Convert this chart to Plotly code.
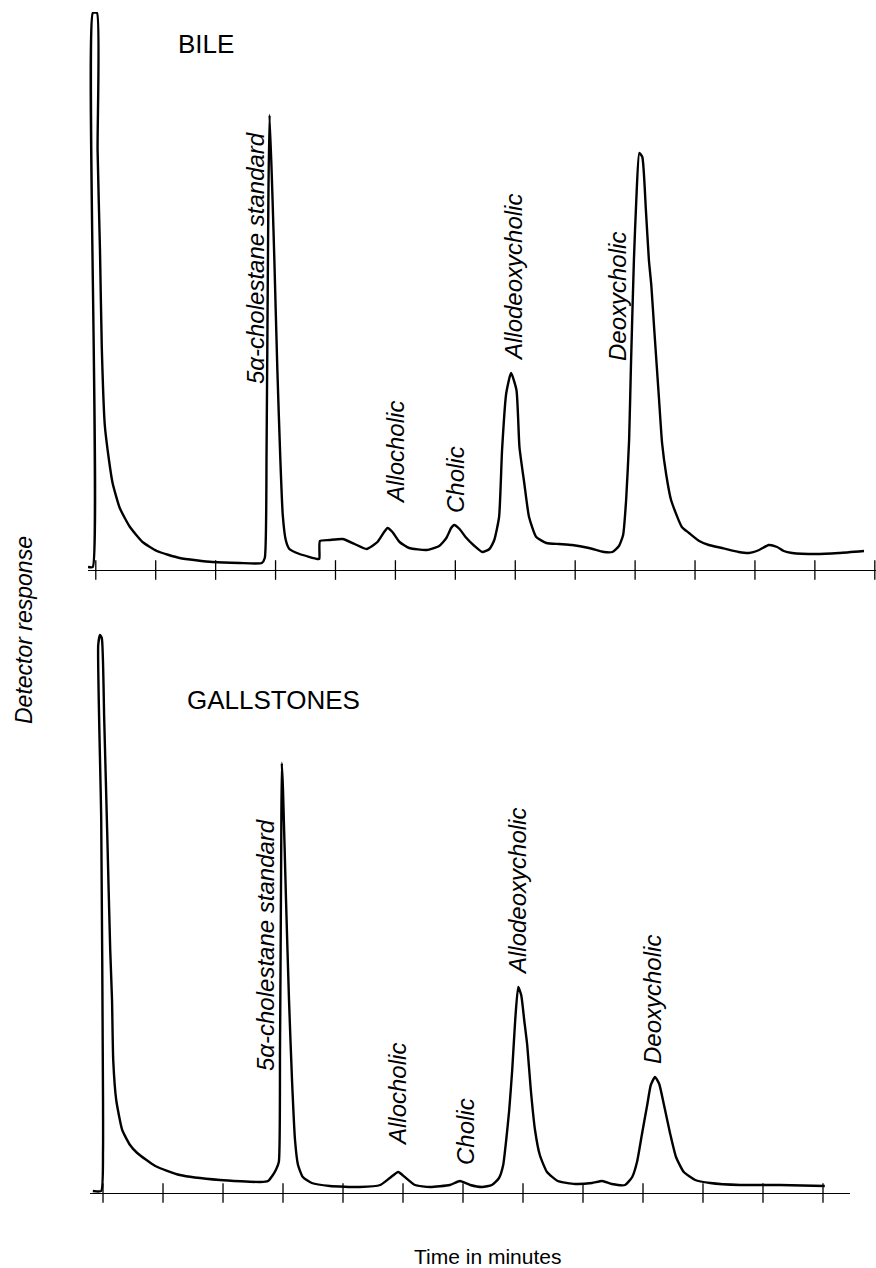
import plotly.graph_objects as go

W, H = 876, 1268

# ---------------- data (time in minutes, detector response in arbitrary units) -------------
BILE_TIME = [-0.13, -0.05, -0.05, 0.02, 0.03, 0.07, 0.10, 0.15, 0.22, 0.28, 0.40, 0.57, 0.78,
             1.02, 1.40, 1.95, 2.40, 2.77, 2.82, 2.85, 2.88, 2.90, 2.95, 2.98, 3.03, 3.08,
             3.12, 3.17, 3.23, 3.40, 3.70, 3.73, 3.74, 3.90, 4.12, 4.32, 4.52, 4.70, 4.80,
             4.87, 4.95, 5.07, 5.23, 5.52, 5.73, 5.85, 5.93, 5.98, 6.07, 6.17, 6.32, 6.45,
             6.57, 6.65, 6.73, 6.78, 6.85, 6.93, 7.02, 7.07, 7.15, 7.23, 7.35, 7.52, 7.73,
             7.95, 8.23, 8.48, 8.62, 8.73, 8.80, 8.85, 8.90, 8.93, 8.98, 9.02, 9.07, 9.12,
             9.18, 9.23, 9.27, 9.32, 9.40, 9.45, 9.52, 9.60, 9.78, 9.90, 10.07, 10.23,
             10.45, 10.73, 10.90, 11.07, 11.23, 11.37, 11.48, 11.62, 12.02, 12.40, 12.82]
BILE_RESP = [3, 3, 557, 557, 420, 320, 223, 145, 110, 87, 62, 43, 28,
             19, 12, 8, 7, 7, 12, 120, 370, 455, 370, 310, 200, 110,
             55, 30, 21, 16, 11, 11, 29, 30, 31, 26, 21, 28, 37,
             42, 38, 28, 22, 20, 24, 32, 42, 45, 41, 33, 24, 18,
             21, 30, 53, 120, 177, 197, 180, 123, 87, 53, 33, 27, 26,
             25, 22, 18, 18, 24, 35, 70, 130, 203, 310, 370, 417, 413,
             360, 310, 285, 240, 170, 127, 95, 70, 43, 37, 29, 25,
             22, 18, 17, 20, 25, 23, 19, 17, 16, 17, 19]

STONE_TIME = [-0.17, -0.03, 0.00, 0.00, -0.03, -0.08, -0.05, -0.02, 0.02, 0.07, 0.12, 0.15,
              0.17, 0.22, 0.32, 0.45, 0.57, 0.87, 1.28, 1.95, 2.62, 2.75, 2.82, 2.88, 2.93,
              2.95, 2.97, 2.98, 3.00, 3.05, 3.10, 3.15, 3.20, 3.25, 3.33, 3.48, 3.78, 4.28,
              4.62, 4.78, 4.92, 5.03, 5.20, 5.45, 5.78, 5.95, 6.12, 6.32, 6.48, 6.60, 6.67,
              6.72, 6.77, 6.82, 6.87, 6.92, 6.97, 7.02, 7.07, 7.13, 7.20, 7.28, 7.40, 7.58,
              7.87, 8.15, 8.32, 8.48, 8.70, 8.82, 8.90, 8.98, 9.07, 9.13, 9.20, 9.27, 9.35,
              9.45, 9.55, 9.68, 9.87, 10.12, 10.62, 11.28, 12.03]
STONE_RESP = [2, 2, 43, 93, 373, 548, 558, 555, 473, 360, 243, 193,
              133, 93, 63, 48, 40, 27, 18, 13, 11, 12, 17, 23, 31,
              143, 343, 430, 403, 293, 193, 113, 53, 28, 16, 10, 7, 6,
              8, 15, 21, 16, 8, 6, 8, 12, 8, 6, 8, 15, 28,
              53, 83, 123, 173, 206, 198, 173, 148, 103, 63, 38, 21, 12,
              9, 10, 12, 9, 8, 16, 31, 58, 88, 108, 116, 109, 88,
              60, 36, 21, 13, 10, 8, 8, 7]

BILE_TICKS = list(range(0, 14))
STONE_TICKS = list(range(0, 13))

BILE_LABELS = ["5α-cholestane standard", "Allocholic", "Cholic", "Allodeoxycholic", "Deoxycholic"]
STONE_LABELS = ["5α-cholestane standard", "Allocholic", "Cholic", "Allodeoxycholic", "Deoxycholic"]

# ---------------- layout helpers (pixel -> paper) ----------------
def px(x):
    return x / W


def py(y):
    return 1 - y / H


FONT = "Liberation Sans"
LINE = dict(color="black", width=2.4, shape="spline", smoothing=0.5)
TICK_MARK = dict(symbol="line-ns", size=14, color="black", line=dict(color="black", width=1.3))

fig = go.Figure()
fig.add_trace(go.Scatter(x=BILE_TIME, y=BILE_RESP, xaxis="x", yaxis="y", mode="lines",
                         line=LINE, hoverinfo="skip", showlegend=False))
fig.add_trace(go.Scatter(x=STONE_TIME, y=STONE_RESP, xaxis="x2", yaxis="y2", mode="lines",
                         line=LINE, hoverinfo="skip", showlegend=False))
# crossing tick marks on the time axes
fig.add_trace(go.Scatter(x=BILE_TICKS, y=[0] * len(BILE_TICKS), xaxis="x", yaxis="y",
                         mode="markers", marker=TICK_MARK, cliponaxis=False,
                         hoverinfo="skip", showlegend=False))
fig.add_trace(go.Scatter(x=STONE_TICKS, y=[0] * len(STONE_TICKS), xaxis="x2", yaxis="y2",
                         mode="markers", marker=TICK_MARK, cliponaxis=False,
                         hoverinfo="skip", showlegend=False))

top_x_range = [-0.13, 13.02]
bot_x_range = [-0.217, 12.45]
top_dom = [px(88), 1.0]
bot_dom = [px(90), px(850)]

axis_common = dict(showgrid=False, zeroline=False, showticklabels=False, ticks="",
                   showline=True, linecolor="black", linewidth=1.3)

fig.update_layout(
    width=W, height=H,
    margin=dict(l=0, r=0, t=0, b=0),
    paper_bgcolor="white", plot_bgcolor="white",
    showlegend=False,
    xaxis=dict(domain=top_dom, range=top_x_range, anchor="y", **axis_common),
    yaxis=dict(domain=[py(570), py(12)], range=[0, 558], anchor="x", visible=False),
    xaxis2=dict(domain=bot_dom, range=bot_x_range, anchor="y2", **axis_common),
    yaxis2=dict(domain=[py(1193), py(630)], range=[0, 563], anchor="x2", visible=False),
)

annots = []


def add_text(text, x, y, size, angle=0, italic=False):
    annots.append(dict(
        text=f"<i>{text}</i>" if italic else text,
        x=px(x), y=py(y), xref="paper", yref="paper",
        xanchor="center", yanchor="middle", showarrow=False, textangle=angle,
        font=dict(family=FONT, size=size, color="black")))


# panel titles
add_text("BILE", 206, 44, 26)
add_text("GALLSTONES", 273, 700, 26)

# peak labels, top panel
top_pos = [(255, 258), (395, 453), (455, 480), (514, 278), (617, 297)]
for lab, (x, y) in zip(BILE_LABELS, top_pos):
    add_text(lab, x, y, 24, angle=-90, italic=True)

# peak labels, bottom panel
bot_pos = [(265, 945), (397, 1095), (465, 1132), (517, 892), (652, 1000)]
for lab, (x, y) in zip(STONE_LABELS, bot_pos):
    add_text(lab, x, y, 24, angle=-90, italic=True)

# axis titles
add_text("Detector response", 24, 630, 23, angle=-90, italic=True)
add_text("Time in minutes", 487, 1256, 21)

fig.update_layout(annotations=annots)

fig.write_html("out.html", config={"displayModeBar": False},
               post_script="document.body.style.margin='0';document.body.style.overflow='hidden';")
